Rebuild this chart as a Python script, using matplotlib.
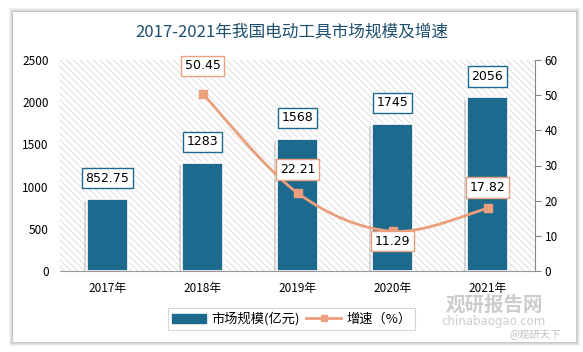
import matplotlib.pyplot as plt
import matplotlib.patheffects as pe
from matplotlib.patches import Rectangle
from matplotlib.path import Path
from matplotlib.patches import PathPatch
from matplotlib.lines import Line2D
import numpy as np

plt.rcParams['font.family'] = ['Noto Sans CJK SC', 'DejaVu Sans']
plt.rcParams['hatch.linewidth'] = 0.6

# 数据
years = ['2017年', '2018年', '2019年', '2020年', '2021年']
market = [852.75, 1283, 1568, 1745, 2056]
market_labels = ['852.75', '1283', '1568', '1745', '2056']
growth = [None, 50.45, 22.21, 11.29, 17.82]
growth_labels = ['', '50.45', '22.21', '11.29', '17.82']

bar_col = '#1d6a8f'
line_col = '#eb9f7c'
title_col = '#1e4f6e'

fig = plt.figure(figsize=(5.83, 3.52), dpi=100)
fig.patch.set_facecolor('white')

# 卡片 + 阴影
for i, a in enumerate([0.05, 0.05, 0.06, 0.07]):
    d = (4 - i) / 583
    fig.patches.append(Rectangle((13 / 583 - d, 10 / 352 - d * 583 / 352), 563 / 583 + 2 * d,
                                 330 / 352 + 2 * d * 583 / 352, transform=fig.transFigure,
                                 facecolor='black', alpha=a, edgecolor='none', zorder=0))
fig.patches.append(Rectangle((13 / 583, 10 / 352), 563 / 583, 330 / 352, transform=fig.transFigure,
                             facecolor='white', edgecolor='none', zorder=0.5))

ax = fig.add_axes([60 / 583, 1 - 271 / 352, 475 / 583, 211 / 352])
ax.set_facecolor('none')
ax2 = ax.twinx()

x = np.arange(len(years))
ax.set_xlim(-0.5, len(years) - 0.5)
ax.set_ylim(0, 2500)
ax2.set_ylim(0, 60)

# 背景斜线
ax.add_patch(Rectangle((0, 0), 1, 1, transform=ax.transAxes, facecolor='white',
                       edgecolor='#d8d8d8', hatch='\\\\\\\\\\', linewidth=0, zorder=0))

bars = ax.bar(x, market, width=0.44, color=bar_col, edgecolor='white', linewidth=1.2, zorder=2)
for b in bars:
    b.set_path_effects([pe.SimplePatchShadow(offset=(-2, -1.5), alpha=0.25, shadow_rgbFace='#777777'), pe.Normal()])

for xi, v, t in zip(x, market, market_labels):
    ax.annotate(t, (xi, v), xytext=(0, 15), textcoords='offset points', ha='center', va='center',
                fontsize=9, family=['DejaVu Sans'], zorder=5,
                bbox=dict(boxstyle='square,pad=0.3', fc='white', ec=bar_col, lw=1))

# 平滑折线
gx = [xi for xi, g in zip(x, growth) if g is not None]
gy = [g for g in growth if g is not None]
pts = np.column_stack([gx, gy])
verts = [tuple(pts[0])]
codes = [Path.MOVETO]
for i in range(len(pts) - 1):
    p0 = pts[max(i - 1, 0)]
    p1 = pts[i]
    p2 = pts[i + 1]
    p3 = pts[min(i + 2, len(pts) - 1)]
    c1 = p1 + (p2 - p0) / 6
    c2 = p2 - (p3 - p1) / 6
    verts += [tuple(c1), tuple(c2), tuple(p2)]
    codes += [Path.CURVE4] * 3
ax2.add_patch(PathPatch(Path(verts, codes), facecolor='none', edgecolor=line_col, lw=2, zorder=3))
ax2.plot(gx, gy, ls='none', marker='s', ms=6, color=line_col, zorder=4)

offs = {1: 20, 2: 17, 3: -7, 4: 15}
for xi, g, t in zip(x, growth, growth_labels):
    if g is None:
        continue
    ax2.annotate(t, (xi, g), xytext=(0, offs[xi]), textcoords='offset points', ha='center', va='center',
                 fontsize=9, family=['DejaVu Sans'], zorder=6,
                 bbox=dict(boxstyle='square,pad=0.3', fc='white', ec=line_col, lw=1))

ax.set_zorder(2)
ax2.set_zorder(3)

ax.set_xticks(x)
ax.set_xticklabels(years, fontsize=8.5)
ax.set_yticks(range(0, 2501, 500))
ax.tick_params(axis='y', length=0, labelsize=8.5, pad=8)
ax.tick_params(axis='x', length=0, pad=8)
ax2.set_yticks(range(0, 61, 10))
ax2.tick_params(axis='y', length=4, color='#888888', labelsize=8.5, pad=3)
for s in ['top', 'left', 'right']:
    ax.spines[s].set_visible(False)
ax.spines['bottom'].set_color('#999999')
for s in ['top', 'left', 'bottom']:
    ax2.spines[s].set_visible(False)
ax2.spines['right'].set_color('#888888')

fig.text(0.5, 1 - 32 / 352, '2017-2021年我国电动工具市场规模及增速', ha='center', va='center',
         fontsize=12, color=title_col)

handles = [Rectangle((0, 0), 1, 1, color=bar_col),
           Line2D([], [], color=line_col, lw=2, marker='s', ms=5)]
leg = fig.legend(handles, ['市场规模(亿元)', '增速（%）'], loc='center', bbox_to_anchor=(0.5, 1 - 319 / 352),
                 ncol=2, fontsize=9.5, frameon=True, fancybox=False, edgecolor='#cccccc',
                 handlelength=2.6, columnspacing=0.5, handletextpad=0.4, borderpad=0.3)
leg.get_frame().set_linewidth(0.8)

# 水印
fig.text(494 / 583, 1 - 305 / 352, '观研报告网', ha='center', va='center', fontsize=14,
         fontweight='bold', color='#9a9a9a', alpha=0.5)
fig.text(494 / 583, 1 - 321 / 352, 'chinabaogao.com', ha='center', va='center', fontsize=8.5,
         color='#9a9a9a', alpha=0.5, family=['DejaVu Sans'])
fig.text(535 / 583, 1 - 334 / 352, '@观研天下', ha='center', va='center', fontsize=7.5,
         color='#9a9a9a', alpha=0.6)

fig.savefig('out.png', dpi=100)
